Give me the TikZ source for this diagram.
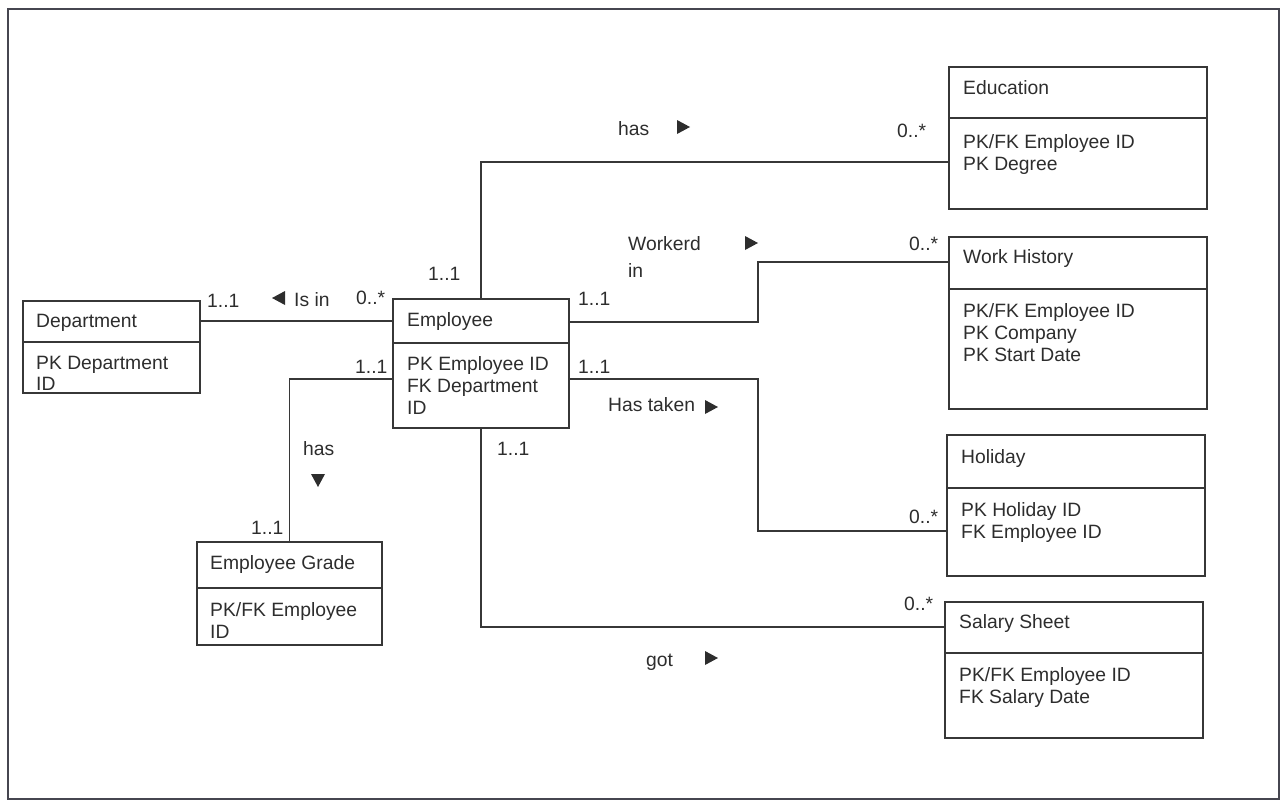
\documentclass[tikz,border=0pt]{standalone}
\usepackage{fontspec}
\setmainfont{Liberation Sans}
\definecolor{lc}{RGB}{55,55,55}
\definecolor{tc}{RGB}{45,45,45}
\definecolor{fc}{RGB}{70,70,80}
\tikzset{
  ent/.style={draw=lc, line width=1.5pt, anchor=north west, inner sep=0pt},
  txt/.style={text=tc, font=\fontsize{19.3}{22}\selectfont, anchor=base west, inner sep=0pt},
  conn/.style={draw=lc, line width=1.5pt},
  tri/.style={fill=tc}
}
\begin{document}
\begin{tikzpicture}[x=1pt,y=-1pt]
\useasboundingbox (0,0) rectangle (1285,803);
\draw[fc, line width=2pt] (8,9) rectangle (1279,799);

% entities
\node[ent, minimum width=177pt, minimum height=92pt] (dept) at (22,300) {};
\draw[conn] (dept.west |- 0,342) -- (dept.east |- 0,342);
\node[txt] (dept-t) at (36,327) {Department};
\node[txt] (dept-a1) at (36,369) {PK Department};
\node[txt] (dept-a2) at (36,390) {ID};

\node[ent, minimum width=176pt, minimum height=129pt] (emp) at (392,298) {};
\draw[conn] (emp.west |- 0,343) -- (emp.east |- 0,343);
\node[txt] (emp-t) at (407,326) {Employee};
\node[txt] (emp-a1) at (407,370) {PK Employee ID};
\node[txt] (emp-a2) at (407,392) {FK Department};
\node[txt] (emp-a3) at (407,414) {ID};

\node[ent, minimum width=258pt, minimum height=142pt] (edu) at (948,66) {};
\draw[conn] (edu.west |- 0,118) -- (edu.east |- 0,118);
\node[txt] (edu-t) at (963,94) {Education};
\node[txt] (edu-a1) at (963,148) {PK/FK Employee ID};
\node[txt] (edu-a2) at (963,170) {PK Degree};

\node[ent, minimum width=258pt, minimum height=172pt] (wh) at (948,236) {};
\draw[conn] (wh.west |- 0,289) -- (wh.east |- 0,289);
\node[txt] (wh-t) at (963,263) {Work History};
\node[txt] (wh-a1) at (963,317) {PK/FK Employee ID};
\node[txt] (wh-a2) at (963,339) {PK Company};
\node[txt] (wh-a3) at (963,361) {PK Start Date};

\node[ent, minimum width=258pt, minimum height=141pt] (hol) at (946,434) {};
\draw[conn] (hol.west |- 0,488) -- (hol.east |- 0,488);
\node[txt] (hol-t) at (961,463) {Holiday};
\node[txt] (hol-a1) at (961,516) {PK Holiday ID};
\node[txt] (hol-a2) at (961,538) {FK Employee ID};

\node[ent, minimum width=258pt, minimum height=136pt] (sal) at (944,601) {};
\draw[conn] (sal.west |- 0,653) -- (sal.east |- 0,653);
\node[txt] (sal-t) at (959,628) {Salary Sheet};
\node[txt] (sal-a1) at (959,681) {PK/FK Employee ID};
\node[txt] (sal-a2) at (959,703) {FK Salary Date};

\node[ent, minimum width=185pt, minimum height=103pt] (grade) at (196,541) {};
\draw[conn] (grade.west |- 0,588) -- (grade.east |- 0,588);
\node[txt] (grade-t) at (210,569) {Employee Grade};
\node[txt] (grade-a1) at (210,616) {PK/FK Employee};
\node[txt] (grade-a2) at (210,638) {ID};

% connectors
\coordinate (wbend) at (758,322);
\coordinate (hbend) at (758,379);
\draw[conn] (dept.east |- 0,321) -- (emp.west |- 0,321);
\draw[conn] (emp.north) |- (edu.west |- 0,162);
\draw[conn] (emp.east |- wbend) -- (wbend) |- (wh.west |- 0,262);
\draw[conn] (emp.east |- hbend) -- (hbend) |- (hol.west |- 0,531);
\draw[conn] (emp.south) |- (sal.west |- 0,627);
\draw[conn] (emp.west |- 0,379) -| (grade.north);

% labels
\node[txt] (l1) at (207,307) {1..1};
\node[txt] (l2) at (294,306) {Is in};
\fill[tri] (278,298) ++(7,-7) -- ++(-13,7) -- ++(13,7) -- cycle;
\node[txt] (l3) at (356,304) {0..*};
\node[txt] (l4) at (428,280) {1..1};
\node[txt] (l5) at (618,135) {has};
\fill[tri] (683,127) ++(-6,-7) -- ++(13,7) -- ++(-13,7) -- cycle;
\node[txt] (l6) at (897,137) {0..*};
\node[txt] (l7) at (628,250) {Workerd};
\node[txt] (l8) at (628,277) {in};
\fill[tri] (751,243) ++(-6,-7) -- ++(13,7) -- ++(-13,7) -- cycle;
\node[txt] (l9) at (909,250) {0..*};
\node[txt] (l10) at (578,305) {1..1};
\node[txt] (l11) at (578,373) {1..1};
\node[txt] (l12) at (608,411) {Has taken};
\fill[tri] (711,407) ++(-6,-7) -- ++(13,7) -- ++(-13,7) -- cycle;
\node[txt] (l13) at (909,523) {0..*};
\node[txt] (l14) at (355,373) {1..1};
\node[txt] (l15) at (303,455) {has};
\fill[tri] (318,480) ++(-7,-6) -- ++(14,0) -- ++(-7,13) -- cycle;
\node[txt] (l16) at (251,534) {1..1};
\node[txt] (l17) at (497,455) {1..1};
\node[txt] (l18) at (646,666) {got};
\fill[tri] (711,658) ++(-6,-7) -- ++(13,7) -- ++(-13,7) -- cycle;
\node[txt] (l19) at (904,610) {0..*};
\end{tikzpicture}
\end{document}
